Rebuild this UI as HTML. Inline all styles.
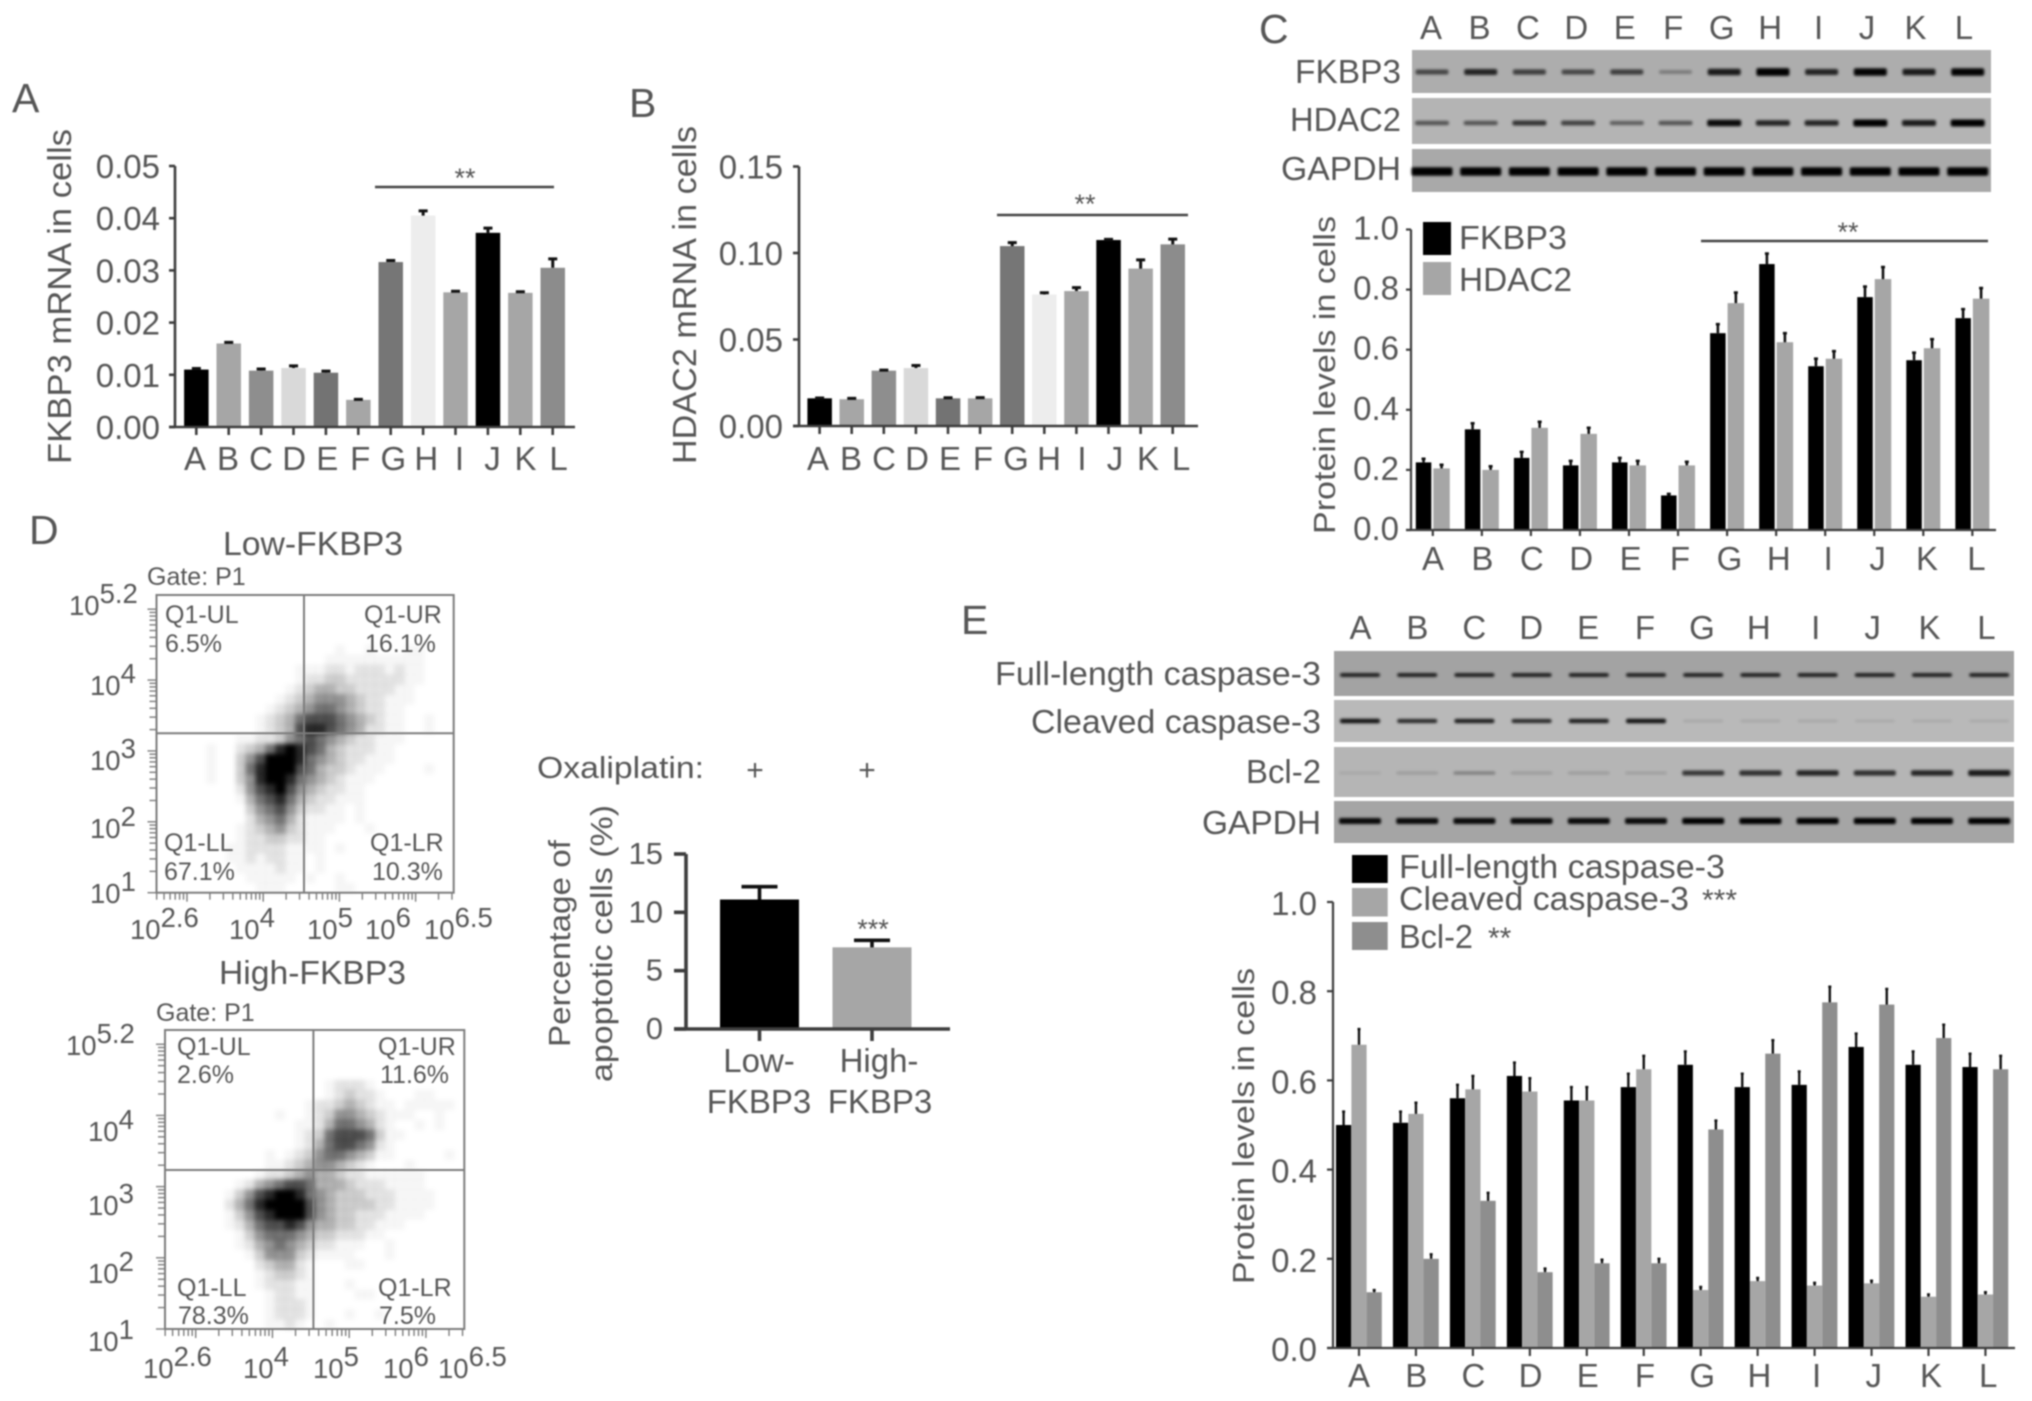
<!DOCTYPE html>
<html lang="en">
<head>
<meta charset="utf-8">
<title>FKBP3 and HDAC2 multi-panel figure</title>
<style>
html,body{margin:0;padding:0;background:#fff;width:2032px;height:1401px;overflow:hidden}
svg{display:block;filter:blur(0.7px)}
text{font-family:"Liberation Sans",sans-serif;fill:#565656}
</style>
</head>
<body>
<svg id="figure" xmlns="http://www.w3.org/2000/svg" width="2032" height="1401" viewBox="0 0 2032 1401">
<defs>
<filter id="band-blur" x="-20%" y="-150%" width="140%" height="400%"><feGaussianBlur stdDeviation="1.3"/></filter>
<filter id="density-blur" x="-5%" y="-5%" width="110%" height="110%"><feGaussianBlur stdDeviation="2.5"/></filter>
</defs>
<rect width="2032" height="1401" fill="#fff"/>

<!-- Panel letters -->
<text x="12" y="112" font-size="41">A</text>
<text x="629" y="117" font-size="41">B</text>
<text x="1259" y="43" font-size="41">C</text>
<text x="29" y="544" font-size="41">D</text>
<text x="961" y="634" font-size="41">E</text>

<!-- Panel A static text -->
<g>
<text transform="translate(71,464) rotate(-90)" font-size="33" textLength="335" lengthAdjust="spacingAndGlyphs">FKBP3 mRNA in cells</text>
<line x1="375" x2="554" y1="187" y2="187" stroke="#444" stroke-width="2.6"/>
<text x="465" y="187" font-size="27" text-anchor="middle">**</text>
<g id="chart-a"></g>
</g>

<!-- Panel B static text -->
<g>
<text transform="translate(696,464) rotate(-90)" font-size="33" textLength="338" lengthAdjust="spacingAndGlyphs">HDAC2 mRNA in cells</text>
<line x1="997" x2="1188" y1="215" y2="215" stroke="#444" stroke-width="2.6"/>
<text x="1085" y="213" font-size="27" text-anchor="middle">**</text>
<g id="chart-b"></g>
</g>

<!-- Panel C static text -->
<g>
<g id="blot-c"></g>
<text x="1401" y="83" font-size="33" text-anchor="end" textLength="106" lengthAdjust="spacingAndGlyphs">FKBP3</text>
<text x="1401" y="131" font-size="33" text-anchor="end" textLength="111" lengthAdjust="spacingAndGlyphs">HDAC2</text>
<text x="1401" y="180" font-size="33" text-anchor="end" textLength="120" lengthAdjust="spacingAndGlyphs">GAPDH</text>
<text transform="translate(1335,534) rotate(-90)" font-size="31" textLength="318" lengthAdjust="spacingAndGlyphs">Protein levels in cells</text>
<line x1="1701" x2="1988" y1="241" y2="241" stroke="#444" stroke-width="2.4"/>
<text x="1848" y="241" font-size="27" text-anchor="middle">**</text>
<rect x="1423" y="222" width="28" height="33" fill="#000"/>
<text x="1459" y="249" font-size="33" textLength="108" lengthAdjust="spacingAndGlyphs">FKBP3</text>
<rect x="1423" y="262" width="28" height="33" fill="#a6a6a6"/>
<text x="1459" y="291" font-size="33" textLength="113" lengthAdjust="spacingAndGlyphs">HDAC2</text>
<g id="chart-c"></g>
</g>

<!-- Panel D: flow cytometry, low FKBP3 -->
<g>
<text x="223" y="555" font-size="33" textLength="180" lengthAdjust="spacingAndGlyphs">Low-FKBP3</text>
<text x="147" y="585" font-size="25">Gate: P1</text>
<g id="scatter-low"></g>
<g font-size="25">
<text x="165" y="623">Q1-UL</text>
<text x="165" y="652">6.5%</text>
<text x="364" y="623">Q1-UR</text>
<text x="365" y="652">16.1%</text>
<text x="164" y="851">Q1-LL</text>
<text x="164" y="880">67.1%</text>
<text x="370" y="851">Q1-LR</text>
<text x="372" y="880">10.3%</text>
</g>
<g font-size="27.5">
<text x="69" y="615">10<tspan dy="-12">5.2</tspan></text>
<text x="90" y="695">10<tspan dy="-12">4</tspan></text>
<text x="90" y="770">10<tspan dy="-12">3</tspan></text>
<text x="90" y="838">10<tspan dy="-12">2</tspan></text>
<text x="90" y="903">10<tspan dy="-12">1</tspan></text>
</g>
<g font-size="27.5">
<text x="130" y="939">10<tspan dy="-12">2.6</tspan></text>
<text x="229" y="939">10<tspan dy="-12">4</tspan></text>
<text x="307" y="939">10<tspan dy="-12">5</tspan></text>
<text x="365" y="939">10<tspan dy="-12">6</tspan></text>
<text x="424" y="939">10<tspan dy="-12">6.5</tspan></text>
</g>

<!-- Panel D: flow cytometry, high FKBP3 -->
<text x="219" y="984" font-size="33" textLength="187" lengthAdjust="spacingAndGlyphs">High-FKBP3</text>
<text x="156" y="1021" font-size="25">Gate: P1</text>
<g id="scatter-high"></g>
<g font-size="25">
<text x="177" y="1055">Q1-UL</text>
<text x="177" y="1083">2.6%</text>
<text x="378" y="1055">Q1-UR</text>
<text x="380" y="1083">11.6%</text>
<text x="177" y="1296">Q1-LL</text>
<text x="178" y="1324">78.3%</text>
<text x="378" y="1296">Q1-LR</text>
<text x="379" y="1324">7.5%</text>
</g>
<g font-size="27.5">
<text x="66" y="1055">10<tspan dy="-12">5.2</tspan></text>
<text x="88" y="1141">10<tspan dy="-12">4</tspan></text>
<text x="88" y="1215">10<tspan dy="-12">3</tspan></text>
<text x="88" y="1283">10<tspan dy="-12">2</tspan></text>
<text x="88" y="1351">10<tspan dy="-12">1</tspan></text>
</g>
<g font-size="27.5">
<text x="143" y="1378">10<tspan dy="-12">2.6</tspan></text>
<text x="243" y="1378">10<tspan dy="-12">4</tspan></text>
<text x="313" y="1378">10<tspan dy="-12">5</tspan></text>
<text x="383" y="1378">10<tspan dy="-12">6</tspan></text>
<text x="438" y="1378">10<tspan dy="-12">6.5</tspan></text>
</g>

<!-- Panel D: apoptosis bars -->
<text x="537" y="778" font-size="31" textLength="167" lengthAdjust="spacingAndGlyphs">Oxaliplatin:</text>
<text x="755" y="780" font-size="30" text-anchor="middle">+</text>
<text x="867" y="780" font-size="30" text-anchor="middle">+</text>
<text transform="translate(570,1047) rotate(-90)" font-size="31" textLength="207" lengthAdjust="spacingAndGlyphs">Percentage of</text>
<text transform="translate(612,1082) rotate(-90)" font-size="31" textLength="277" lengthAdjust="spacingAndGlyphs">apoptotic cells (%)</text>
<text x="873" y="938" font-size="27" text-anchor="middle">***</text>
<g id="chart-d"></g>
<text x="759" y="1072" font-size="33" text-anchor="middle">Low-</text>
<text x="759" y="1113" font-size="33" text-anchor="middle">FKBP3</text>
<text x="879" y="1072" font-size="33" text-anchor="middle">High-</text>
<text x="880" y="1113" font-size="33" text-anchor="middle">FKBP3</text>
</g>

<!-- Panel E -->
<g>
<g id="blot-e"></g>
<text x="1321" y="685" font-size="33" text-anchor="end" textLength="326" lengthAdjust="spacingAndGlyphs">Full-length caspase-3</text>
<text x="1321" y="733" font-size="33" text-anchor="end" textLength="290" lengthAdjust="spacingAndGlyphs">Cleaved caspase-3</text>
<text x="1321" y="783" font-size="33" text-anchor="end" textLength="75" lengthAdjust="spacingAndGlyphs">Bcl-2</text>
<text x="1321" y="834" font-size="33" text-anchor="end" textLength="119" lengthAdjust="spacingAndGlyphs">GAPDH</text>
<rect x="1352" y="855" width="35.7" height="28" fill="#000"/>
<text x="1399" y="878" font-size="33" textLength="326" lengthAdjust="spacingAndGlyphs">Full-length caspase-3</text>
<rect x="1352" y="888" width="35.7" height="28.5" fill="#a6a6a6"/>
<text x="1399" y="910" font-size="33" textLength="290" lengthAdjust="spacingAndGlyphs">Cleaved caspase-3</text>
<text x="1702" y="910" font-size="30">***</text>
<rect x="1352" y="922" width="35.7" height="28" fill="#8e8e8e"/>
<text x="1399" y="948" font-size="33" textLength="74" lengthAdjust="spacingAndGlyphs">Bcl-2</text>
<text x="1488" y="948" font-size="30">**</text>
<text transform="translate(1254,1284) rotate(-90)" font-size="31" textLength="316" lengthAdjust="spacingAndGlyphs">Protein levels in cells</text>
<g id="chart-e"></g>
</g>
</svg>

<script>
// ---------- shared categories and tick labels ----------
const categories = ['A','B','C','D','E','F','G','H','I','J','K','L'];
const yTicksA = ['0.00','0.01','0.02','0.03','0.04','0.05'];
const yTicksB = ['0.00','0.05','0.10','0.15'];
const yTicksProtein = ['0.0','0.2','0.4','0.6','0.8','1.0'];
const yTicksApoptosis = ['0','5','10','15'];

// ---------- panel A ----------
const fkbp3Mrna = [0.011,0.016,0.0108,0.0113,0.0104,0.0052,0.0316,0.0405,0.0258,0.0372,0.0257,0.0305];
const fkbp3MrnaErr = [0.0002,0.0002,0.0003,0.0004,0.0003,0.0001,0.0003,0.0009,0.0002,0.0009,0.0002,0.0017];

// ---------- panel B ----------
const hdac2Mrna = [0.016,0.0155,0.032,0.0335,0.016,0.016,0.104,0.076,0.078,0.1075,0.091,0.105];
const hdac2MrnaErr = [0.0002,0.0005,0.0003,0.0015,0.0003,0.0004,0.002,0.001,0.002,0.0004,0.005,0.003];

// ---------- panel C ----------
const fkbp3Protein = [0.225,0.335,0.24,0.215,0.225,0.115,0.655,0.885,0.545,0.775,0.565,0.705];
const fkbp3ProteinErr = [0.012,0.02,0.02,0.015,0.015,0.005,0.03,0.035,0.025,0.035,0.025,0.03];
const hdac2Protein = [0.205,0.2,0.34,0.32,0.215,0.215,0.755,0.625,0.57,0.835,0.605,0.77];
const hdac2ProteinErr = [0.012,0.012,0.02,0.02,0.015,0.012,0.035,0.03,0.025,0.04,0.03,0.035];

// ---------- panel D ----------
const apoptosisGroups = ['low-fkbp3','high-fkbp3'];
const apoptosisValues = [11.1,7.0];
const apoptosisErr = [1.1,0.6];
const scatterDecades = [1,2,3,4,5];
const scatterXDecades = [2,3,4,5,6];
// Estimated event density (0 none to 9 saturated), row 0 at the top.
const densityLow = [
'000000000000000000000000000000','000000000000000000000000000000','000000000000000000000000000000',
'000000000000000000000000000000','000000000000000000000000000000','000000000000000000100100011000',
'000000000000000001111111111000','000000000000001112212221211000','000000000000001223322222211000',
'000000000000012344332222110000','000000000000123455543221110000','000000000001234566543221100000',
'000000000012346777654321100100','000000000012347887654221100100','000000001122356765432211100000',
'000001002346898764322211000000','000001003579998654322111000000','000001003689997643321110000100',
'000001003589986543211100000000','000000002578975432211000000000','000000001467864322111000000000',
'000000000356753221101000000000','000000000245642111101000000000','000000001234532111000100000000',
'000000001223322110000000000000','000000011222211110100000000000','000000011212211010000000000000',
'000000001111211010000000000000','000000000111110100100000000000','000000000011100000110000000000'
];
const densityHigh = [
'000000000000000000000000000000','000000000000000000000000000000','000000000000000000000000000000',
'000000000000000000000000000000','000000000000000000000000000000','000000000000000012221000000000',
'000000000000000012322100011000','000000000000001223432110111110','000000000001001235543211100100',
'000000000000011246654210010100','000000000000012367776311000000','000000000000012467765210000000',
'000000000010123566543110000010','000000000011234554321000100000','000000000122345443221111110000',
'000000012456776444322211110000','000000135789986543332221111000','000000246899997543333221111000',
'000000135789997543322211110000','000000124677875443322111000000','000000013566654332221100000000',
'000000012456543221110010000000','000000001355532111100010000000','000000000234421000110000000000',
'000000000123321000000000000000','000000000122211000100000000000','000000000012211000011000000000',
'000000000012221000000000000000','000000000012221000100100000000','000000000011210010000000000000'
];

// ---------- panel E ----------
const fullLength = [0.5,0.505,0.56,0.61,0.555,0.585,0.635,0.585,0.59,0.675,0.635,0.63];
const fullLengthErr = [0.03,0.025,0.03,0.03,0.03,0.03,0.03,0.03,0.03,0.03,0.03,0.03];
const cleaved = [0.68,0.525,0.58,0.575,0.555,0.625,0.13,0.15,0.14,0.145,0.115,0.12];
const cleavedErr = [0.035,0.025,0.03,0.03,0.03,0.03,0.007,0.007,0.006,0.006,0.005,0.005];
const bcl2 = [0.125,0.2,0.33,0.17,0.19,0.19,0.49,0.66,0.775,0.77,0.695,0.625];
const bcl2Err = [0.005,0.01,0.018,0.008,0.008,0.01,0.02,0.03,0.035,0.035,0.03,0.03];

// ---------- western blot band intensity (0 to 1) per lane ----------
const blotFkbp3 = [0.6,0.8,0.65,0.6,0.65,0.3,0.85,1,0.8,0.98,0.85,0.98];
const blotHdac2 = [0.55,0.55,0.72,0.65,0.5,0.55,0.95,0.8,0.8,1,0.85,1];
const blotGapdhC = [1,1,1,1,1,1,1,1,1,1,1,1];
const blotFullLength = [0.85,0.85,0.85,0.85,0.85,0.85,0.85,0.85,0.85,0.85,0.85,0.85];
const blotCleaved = [0.9,0.8,0.85,0.8,0.85,0.9,0.12,0.12,0.12,0.1,0.1,0.1];
const blotBcl2 = [0.08,0.14,0.3,0.14,0.14,0.12,0.7,0.75,0.8,0.75,0.8,0.85];
const blotGapdhE = [0.95,0.95,0.95,0.95,0.95,0.95,1,1,1,1,1,1];

const NS = 'http://www.w3.org/2000/svg';
const AXIS_COLOR = '#3d3d3d';
function mk(tag, parent, attrs) {
  const el = document.createElementNS(NS, tag);
  for (const k in attrs) el.setAttribute(k, attrs[k]);
  parent.appendChild(el);
  return el;
}
function linearY(max, top, base) { return v => base - (v / max) * (base - top); }

function drawBars(layer, name, values, errs, left, yScale, width, fill, capWidth, stemWidth) {
  values.forEach((v, i) => {
    const key = categories[i].toLowerCase();
    const xl = left(i);
    const color = fill(i);
    const bar = mk('rect', layer, {x: xl, y: yScale(v), width: width, height: yScale(0) - yScale(v), fill: color});
    
    
    const cx = xl + width / 2;
    const yTop = yScale(v + errs[i]);
    const err = mk('path', layer, {d: 'M' + cx + ' ' + yScale(v) + 'V' + yTop + 'M' + (cx - capWidth / 2) + ' ' + yTop + 'H' + (cx + capWidth / 2), stroke: '#111', 'stroke-width': stemWidth, fill: 'none'});
    
    
  });
}

function drawAxes(layer, name, o) {
  const yAxis = mk('line', layer, {x1: o.axisX, x2: o.axisX, y1: o.y(o.yMax), y2: o.y(0), stroke: AXIS_COLOR, 'stroke-width': o.lw});
  
  
  const xAxis = mk('line', layer, {x1: o.axisX - o.tickLen, x2: o.xEnd, y1: o.y(0), y2: o.y(0), stroke: AXIS_COLOR, 'stroke-width': o.lw});
  
  
  o.yLabels.forEach(label => {
    const v = Number(label);
    const tick = mk('line', layer, {x1: o.axisX - o.tickLen, x2: o.axisX, y1: o.y(v), y2: o.y(v), stroke: AXIS_COLOR, 'stroke-width': o.lw});
    
    
    const t = mk('text', layer, {x: o.yLabelRight, y: o.y(v) + o.yLabelDy, 'font-size': o.fontSize, 'text-anchor': 'end'});
    t.textContent = label;
    
    
  });
  o.xCats.forEach((c, i) => {
    const tick = mk('line', layer, {x1: o.tickX(i), x2: o.tickX(i), y1: o.y(0), y2: o.y(0) + o.xTickLen, stroke: AXIS_COLOR, 'stroke-width': o.lw});
    
    
    if (o.labelX) {
      const t = mk('text', layer, {x: o.labelX(i), y: o.xLabelY, 'font-size': o.xFontSize || o.fontSize, 'text-anchor': 'middle'});
      t.textContent = c;
      
      
    }
  });
}

// ---------- panel A draw ----------
const barGrays = ['#000','#a6a6a6','#8e8e8e','#d9d9d9','#737373','#a6a6a6','#767676','#ededed','#a6a6a6','#000','#a6a6a6','#8c8c8c'];
const chartA = document.getElementById('chart-a');
const yA = linearY(0.05, 166, 427);
const tickA = i => 196.3 + i * 32.4;
drawBars(chartA, 'chart-a', fkbp3Mrna, fkbp3MrnaErr, i => tickA(i) - 12.2, yA, 24.5, i => barGrays[i], 9, 3);
drawAxes(chartA, 'chart-a', {axisX: 175, xEnd: 575, y: yA, yMax: 0.05, lw: 2.6, tickLen: 6, xTickLen: 8, yLabels: yTicksA, yLabelRight: 160, yLabelDy: 12, fontSize: 33, xCats: categories, tickX: tickA, labelX: i => 195 + i * 33.05, xLabelY: 470});

// ---------- panel B draw ----------
const chartB = document.getElementById('chart-b');
const yB = linearY(0.15, 166.5, 426);
const tickB = i => 819.6 + i * 32.1;
drawBars(chartB, 'chart-b', hdac2Mrna, hdac2MrnaErr, i => tickB(i) - 12.2, yB, 24.5, i => barGrays[i], 9, 3);
drawAxes(chartB, 'chart-b', {axisX: 799, xEnd: 1198, y: yB, yMax: 0.15, lw: 2.6, tickLen: 6, xTickLen: 8, yLabels: yTicksB, yLabelRight: 783, yLabelDy: 12, fontSize: 33, xCats: categories, tickX: tickB, labelX: i => 818 + i * 33.0, xLabelY: 470});

// ---------- panel C draw ----------
const chartC = document.getElementById('chart-c');
const yC = linearY(1, 229.5, 530);
const tickC = i => 1432.8 + i * 49.05;
drawBars(chartC, 'chart-c-fkbp3', fkbp3Protein, fkbp3ProteinErr, i => tickC(i) - 17, yC, 15.5, () => '#000', 4, 2.6);
drawBars(chartC, 'chart-c-hdac2', hdac2Protein, hdac2ProteinErr, i => tickC(i) + 0.5, yC, 16.5, () => '#a6a6a6', 4, 2.6);
drawAxes(chartC, 'chart-c', {axisX: 1411, xEnd: 1996, y: yC, yMax: 1, lw: 2.2, tickLen: 5, xTickLen: 6, yLabels: yTicksProtein, yLabelRight: 1399, yLabelDy: 10, fontSize: 33, xCats: categories, tickX: tickC, labelX: i => 1433 + i * 49.4, xLabelY: 570});
categories.forEach((c, i) => {
  const t = mk('text', chartC, {x: 1431 + i * 48.45, y: 39, 'font-size': 33, 'text-anchor': 'middle'});
  t.textContent = c;
  
  
});

// ---------- panel E draw ----------
const chartE = document.getElementById('chart-e');
const yE = linearY(1, 902, 1348);
const tickE = i => 1359 + i * 56.95;
drawBars(chartE, 'chart-e-full-length', fullLength, fullLengthErr, i => tickE(i) - 23, yE, 15.2, () => '#000', 3, 2.4);
drawBars(chartE, 'chart-e-cleaved', cleaved, cleavedErr, i => tickE(i) - 7.6, yE, 15.2, () => '#a6a6a6', 3, 2.4);
drawBars(chartE, 'chart-e-bcl-2', bcl2, bcl2Err, i => tickE(i) + 7.6, yE, 15.2, () => '#8e8e8e', 3, 2.4);
drawAxes(chartE, 'chart-e', {axisX: 1333, xEnd: 2015, y: yE, yMax: 1, lw: 2.2, tickLen: 6, xTickLen: 8, yLabels: yTicksProtein, yLabelRight: 1317, yLabelDy: 13, fontSize: 33, xCats: categories, tickX: tickE, labelX: i => 1359 + i * 57.2, xLabelY: 1387, xFontSize: 33});
categories.forEach((c, i) => {
  const t = mk('text', chartE, {x: 1360.5 + i * 56.9, y: 639, 'font-size': 33, 'text-anchor': 'middle'});
  t.textContent = c;
  
  
});

// ---------- panel D bars draw ----------
const chartD = document.getElementById('chart-d');
const yD = linearY(15, 854, 1029);
const tickD = i => 759.5 + i * 112.5;
const apoptosisFill = ['#000','#a6a6a6'];
apoptosisValues.forEach((v, i) => {
  const bar = mk('rect', chartD, {x: tickD(i) - 39.5, y: yD(v), width: 79, height: yD(0) - yD(v), fill: apoptosisFill[i]});
  
  
  const yTop = yD(v + apoptosisErr[i]);
  const err = mk('path', chartD, {d: 'M' + tickD(i) + ' ' + yD(v) + 'V' + yTop + 'M' + (tickD(i) - 18) + ' ' + yTop + 'H' + (tickD(i) + 18), stroke: '#111', 'stroke-width': 3.6, fill: 'none'});
  
  
});
drawAxes(chartD, 'apoptosis', {axisX: 686, xEnd: 950, y: yD, yMax: 15, lw: 3.6, tickLen: 12, xTickLen: 12, yLabels: yTicksApoptosis, yLabelRight: 663, yLabelDy: 10, fontSize: 31, xCats: apoptosisGroups, tickX: tickD});

// ---------- blots draw ----------
function drawBlotRow(layer, name, box, fill, intensity, lane, bandY, bandW, bandH) {
  const r = mk('rect', layer, {x: box.x, y: box.y, width: box.w, height: box.h, fill: fill});
  
  
  const g = mk('g', layer, {filter: 'url(#band-blur)'});
  
  
  intensity.forEach((v, i) => {
    const h = bandH * (0.6 + 0.8 * v * v);
    const b = mk('rect', g, {x: lane(i) - bandW / 2, y: bandY - h / 2, width: bandW, height: h, rx: 2, fill: '#000', 'fill-opacity': v});
    
    
  });
}
const blotC = document.getElementById('blot-c');
const laneC = i => 1432 + i * 48.7;
drawBlotRow(blotC, 'blot-fkbp3', {x: 1412, y: 50, w: 579, h: 43}, '#adadad', blotFkbp3, laneC, 72, 33, 5.5);
drawBlotRow(blotC, 'blot-hdac2', {x: 1412, y: 98, w: 579, h: 46}, '#b4b4b4', blotHdac2, laneC, 123, 34, 5);
drawBlotRow(blotC, 'blot-gapdh-c', {x: 1412, y: 149, w: 579, h: 43}, '#a9a9a9', blotGapdhC, laneC, 171.5, 41, 6);
const blotE = document.getElementById('blot-e');
const laneE = i => 1360 + i * 57.2;
drawBlotRow(blotE, 'blot-full-length', {x: 1334, y: 651, w: 680, h: 45}, '#a3a3a3', blotFullLength, laneE, 675, 40, 3.2);
drawBlotRow(blotE, 'blot-cleaved', {x: 1334, y: 700, w: 680, h: 42}, '#b9b9b9', blotCleaved, laneE, 721, 40, 3.6);
drawBlotRow(blotE, 'blot-bcl-2', {x: 1334, y: 747, w: 680, h: 50}, '#b5b5b5', blotBcl2, laneE, 773, 42, 5);
drawBlotRow(blotE, 'blot-gapdh-e', {x: 1334, y: 801, w: 680, h: 42}, '#a5a5a5', blotGapdhE, laneE, 821, 42, 4.5);

// ---------- scatter draw ----------
function drawScatter(host, name, rows, box) {
  const xs = lg => box.x0 + (lg - 2.6) / (6.5 - 2.6) * (box.x1 - box.x0);
  const ys = lg => box.y1 - (lg - 1) / (5.2 - 1) * (box.y1 - box.y0);
  const cloud = mk('g', host, {filter: 'url(#density-blur)'});
  
  
  const nR = rows.length, nC = rows[0].length;
  rows.forEach((row, r) => {
    for (let c = 0; c < nC; c++) {
      const d = Number(row[c]);
      if (!d) continue;
      const lx = 2.6 + c / nC * 3.9, ly = 5.2 - r / nR * 4.2;
      const cell = mk('rect', cloud, {x: xs(lx), y: ys(ly), width: (box.x1 - box.x0) / nC + 0.5, height: (box.y1 - box.y0) / nR + 0.5, fill: '#000', 'fill-opacity': Math.pow(d / 9, 1.5)});
      
      
    }
  });
  const frame = mk('rect', host, {x: box.x0, y: box.y0, width: box.x1 - box.x0, height: box.y1 - box.y0, fill: 'none', stroke: '#7c7c7c', 'stroke-width': 2});
  
  
  const vGate = mk('line', host, {x1: box.gx, x2: box.gx, y1: box.y0, y2: box.y1, stroke: '#7c7c7c', 'stroke-width': 2});
  
  
  const hGate = mk('line', host, {x1: box.x0, x2: box.x1, y1: box.gy, y2: box.gy, stroke: '#7c7c7c', 'stroke-width': 2});
  
  
  const minors = [1,2,3,4,5,6,7,8,9];
  scatterDecades.forEach(dec => {
    minors.forEach(m => {
      const lg = dec + Math.log10(m);
      if (lg > 5.2) return;
      const t = mk('line', host, {x1: box.x0 - (m === 1 ? 9 : 7), x2: box.x0, y1: ys(lg), y2: ys(lg), stroke: '#7c7c7c', 'stroke-width': 1.4});
      
      
    });
  });
  scatterXDecades.forEach(dec => {
    minors.forEach(m => {
      const lg = dec + Math.log10(m);
      if (lg < 2.6 || lg > 6.5) return;
      const t = mk('line', host, {x1: xs(lg), x2: xs(lg), y1: box.y1, y2: box.y1 + (m === 1 ? 9 : 7), stroke: '#7c7c7c', 'stroke-width': 1.4});
      
      
    });
  });
}
drawScatter(document.getElementById('scatter-low'), 'scatter-low', densityLow, {x0: 156.5, x1: 453.7, y0: 595, y1: 892.7, gx: 304, gy: 733.3});
drawScatter(document.getElementById('scatter-high'), 'scatter-high', densityHigh, {x0: 165, x1: 464.3, y0: 1030, y1: 1329, gx: 313.4, gy: 1170});
</script>
</body>
</html>
